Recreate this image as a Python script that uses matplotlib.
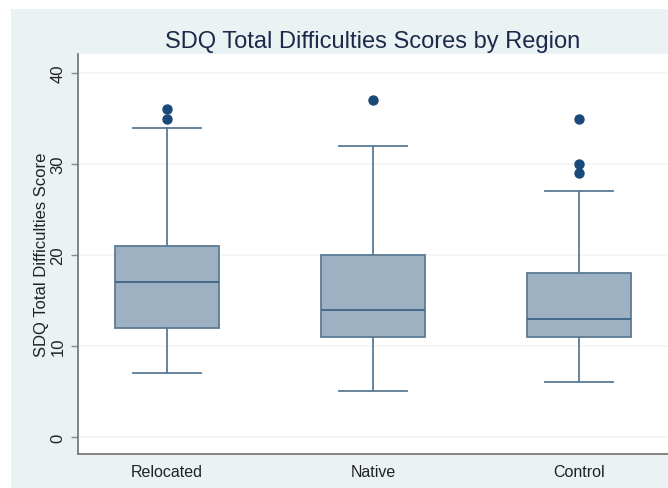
import numpy as np
import matplotlib.pyplot as plt
from matplotlib.patches import Rectangle

plt.rcParams['font.family'] = ['Liberation Sans', 'DejaVu Sans']

# box summary values
regions = ['Relocated', 'Native', 'Control']
whislo = [7, 5, 6]
q1 = [12, 11, 11]
med = [17, 14, 13]
q3 = [21, 20, 18]
whishi = [34, 32, 27]
outliers = [[35, 36], [37], [29, 30, 35]]

stats = []
for i, name in enumerate(regions):
    stats.append(dict(label=name, whislo=whislo[i], q1=q1[i], med=med[i],
                      q3=q3[i], whishi=whishi[i], fliers=outliers[i]))

fig = plt.figure(figsize=(6.68, 4.89), dpi=100)
fig.patch.set_facecolor('white')
# stata-ish graph region, kept behind the axes
bg = Rectangle((11 / 668, 0), 1, 479 / 489, transform=fig.transFigure,
               facecolor='#eaf2f4', edgecolor='none', zorder=-10)
fig.add_artist(bg)

ax = fig.add_axes([78 / 668, 34 / 489, 590 / 668, 400 / 489])
ax.set_facecolor('white')
ax.set_zorder(1)

edge = '#5b7b95'
ax.bxp(stats, positions=[1, 2, 3], widths=0.505, capwidths=0.33,
       patch_artist=True, showfliers=True,
       boxprops=dict(facecolor='#9db1c2', edgecolor=edge, linewidth=1.3),
       medianprops=dict(color='#44698a', linewidth=1.4),
       whiskerprops=dict(color=edge, linewidth=1.3),
       capprops=dict(color=edge, linewidth=1.3),
       flierprops=dict(marker='o', markerfacecolor='#1a4a78',
                       markeredgecolor='#1a4a78', markersize=6.5))

ax.set_xlim(0.568, 3.432)
ax.set_ylim(-1.87, 42.09)
ax.set_yticks([0, 10, 20, 30, 40])
ax.set_yticklabels(['0', '10', '20', '30', '40'], rotation=90,
                   va='center', fontsize=12, color='#222222')
ax.set_xticks([1, 2, 3])
ax.set_xticklabels(regions, fontsize=11.5, color='#222222')
ax.tick_params(axis='x', length=0, pad=7)
ax.tick_params(axis='y', length=5, width=1, color='#8a8a8a', pad=4)
ax.grid(axis='y', color='#f1f3f5', linewidth=1.2)
ax.set_axisbelow(True)

for side in ['top', 'right']:
    ax.spines[side].set_visible(False)
for side in ['left', 'bottom']:
    ax.spines[side].set_color('#707070')
    ax.spines[side].set_linewidth(1.2)

ax.set_ylabel('SDQ Total Difficulties Score', fontsize=12, color='#222222',
              labelpad=1)
fig.text(373 / 668, 1 - 42 / 489, 'SDQ Total Difficulties Scores by Region',
         ha='center', va='center', fontsize=17, color='#1c2a4a')

fig.savefig('out.png', dpi=100)
